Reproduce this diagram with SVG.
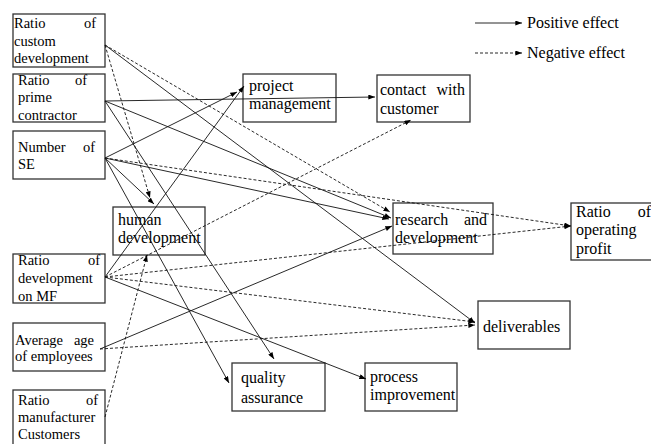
<svg xmlns="http://www.w3.org/2000/svg" width="651" height="444" viewBox="0 0 651 444">
<defs>
<marker id="ah" viewBox="0 0 8 6" refX="8" refY="3" markerWidth="7" markerHeight="5" markerUnits="userSpaceOnUse" orient="auto"><path d="M0,0 L8,3 L0,6 Z" fill="#000"/></marker>
<style>
.box{fill:#fff;stroke:#333;stroke-width:1.3}
text{font-family:"Liberation Serif","Times New Roman",serif;font-size:16px;fill:#000}
text.s{font-size:14.5px}
text.e{text-anchor:end}
.c line{stroke:#111;stroke-width:0.9;fill:none;marker-end:url(#ah)}
.c line.d{stroke-dasharray:3,2}
</style>
</defs>
<rect width="651" height="444" fill="#fff"/>

<g id="legend">
<line x1="475" y1="23" x2="522" y2="23" stroke="#111" stroke-width="0.9" marker-end="url(#ah)"/>
<text x="527" y="28">Positive effect</text>
<line x1="475" y1="53" x2="522" y2="53" stroke="#111" stroke-width="0.9" stroke-dasharray="3,2" marker-end="url(#ah)"/>
<text x="527" y="58">Negative effect</text>
</g>

<g id="n-custom"><rect class="box" x="13" y="14" width="92" height="53"/>
<text class="s" x="14" y="28">Ratio</text><text class="s e" x="96" y="28">of</text>
<text class="s" x="14" y="46">custom</text><text class="s" x="14" y="63">development</text></g>

<g id="n-prime"><rect class="box" x="13" y="74" width="92" height="48"/>
<text class="s" x="18" y="85">Ratio</text><text class="s e" x="87" y="85">of</text>
<text class="s" x="18" y="102">prime</text><text class="s" x="18" y="120">contractor</text></g>

<g id="n-se"><rect class="box" x="13" y="131" width="92" height="48"/>
<text class="s" x="18" y="152">Number</text><text class="s e" x="95" y="152">of</text>
<text class="s" x="18" y="169">SE</text></g>

<g id="n-mf"><rect class="box" x="13" y="254" width="92" height="49"/>
<text class="s" x="18" y="265">Ratio</text><text class="s e" x="100" y="265">of</text>
<text class="s" x="18" y="283">development</text><text class="s" x="18" y="301">on MF</text></g>

<g id="n-age"><rect class="box" x="13" y="323" width="92" height="48"/>
<text class="s" x="15" y="345">Average</text><text class="s e" x="94" y="345">age</text>
<text class="s" x="15" y="361">of employees</text></g>

<g id="n-manu"><rect class="box" x="13" y="390" width="92" height="60"/>
<text class="s" x="18" y="405">Ratio</text><text class="s e" x="98" y="405">of</text>
<text class="s" x="18" y="422">manufacturer</text><text class="s" x="18" y="439">Customers</text></g>

<g id="n-human"><rect class="box" x="113" y="207" width="92" height="48"/>
<text x="118" y="225">human</text><text x="118" y="243">development</text></g>

<g id="n-pm"><rect class="box" x="243" y="74" width="93" height="48"/>
<text x="249" y="91">project</text><text x="249" y="109">management</text></g>

<g id="n-contact"><rect class="box" x="377" y="75" width="93" height="47"/>
<text x="380" y="95">contact</text><text class="e" x="465" y="95">with</text>
<text x="380" y="114">customer</text></g>

<g id="n-rd"><rect class="box" x="393" y="203" width="100" height="51"/>
<text x="395" y="225">research</text><text class="e" x="487" y="225">and</text>
<text x="395" y="243">development</text></g>

<g id="n-op"><rect class="box" x="571" y="203" width="90" height="57"/>
<text x="576" y="217">Ratio</text><text class="e" x="651" y="217">of</text>
<text x="576" y="235">operating</text><text x="576" y="254">profit</text></g>

<g id="n-deliv"><rect class="box" x="478" y="301" width="92" height="48"/>
<text x="483" y="332">deliverables</text></g>

<g id="n-qa"><rect class="box" x="232" y="363" width="93" height="48"/>
<text x="241" y="383">quality</text><text x="241" y="403">assurance</text></g>

<g id="n-pi"><rect class="box" x="365" y="363" width="92" height="48"/>
<text x="370" y="382">process</text><text x="370" y="400">improvement</text></g>

<g id="connectors" class="c">
<line x1="105" y1="45" x2="475" y2="323"/>
<line x1="105" y1="101" x2="375" y2="97"/>
<line x1="105" y1="101" x2="391" y2="218"/>
<line x1="105" y1="101" x2="274" y2="359"/>
<line x1="105" y1="158" x2="237" y2="92"/>
<line x1="105" y1="158" x2="154" y2="204"/>
<line x1="105" y1="158" x2="389" y2="219"/>
<line x1="105" y1="158" x2="229" y2="383"/>
<line x1="105" y1="277" x2="244" y2="86"/>
<line x1="105" y1="277" x2="366" y2="379"/>
<line x1="100" y1="349" x2="392" y2="226"/>
<line class="d" x1="105" y1="45" x2="150" y2="198"/>
<line class="d" x1="105" y1="45" x2="390" y2="212"/>
<line class="d" x1="105" y1="158" x2="571" y2="226"/>
<line class="d" x1="105" y1="277" x2="411" y2="120"/>
<line class="d" x1="105" y1="277" x2="571" y2="226"/>
<line class="d" x1="105" y1="277" x2="475" y2="322"/>
<line class="d" x1="100" y1="349" x2="475" y2="325"/>
<line class="d" x1="105" y1="417" x2="147" y2="255"/>
</g>
</svg>
